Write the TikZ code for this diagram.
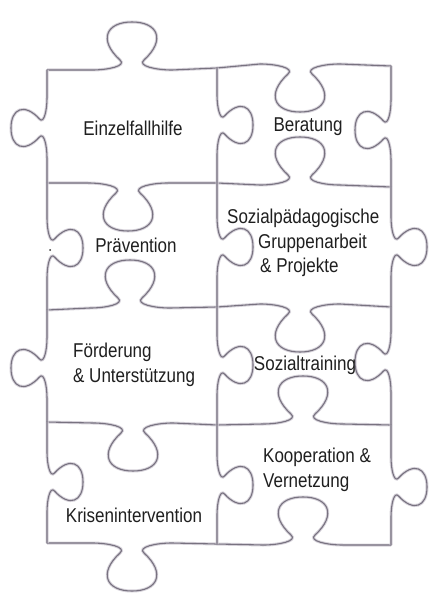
\documentclass[tikz,border=0pt]{standalone}
\usepackage{fontspec}
\setmainfont{Liberation Sans}[FakeStretch=0.85]
\definecolor{edgecol}{RGB}{120,114,128}
\definecolor{halocol}{RGB}{214,210,218}
\tikzset{
  pz/.style={draw=edgecol, line width=1.1pt, line cap=round, line join=round,
    preaction={draw=halocol, line width=3pt}},
  lbl/.style={inner sep=0pt, font=\fontsize{20}{24.5}\selectfont, text=black!88}
}
% knob on a horizontal edge (drawn left to right): centre x, y, direction (+1 down, -1 up), scale
\newcommand\hk[4]{%
 -- ({#1-40*(#4)},{#2})
 .. controls ({#1-24*(#4)},{#2}) and ({#1-5*(#4)},{#2+4*(#3)*(#4)}) .. ({#1-12*(#4)},{#2+10*(#3)*(#4)})
 .. controls ({#1-34*(#4)},{#2+30*(#3)*(#4)}) and ({#1-26*(#4)},{#2+48*(#3)*(#4)}) .. ({#1},{#2+48*(#3)*(#4)})
 .. controls ({#1+26*(#4)},{#2+48*(#3)*(#4)}) and ({#1+34*(#4)},{#2+30*(#3)*(#4)}) .. ({#1+12*(#4)},{#2+10*(#3)*(#4)})
 .. controls ({#1+5*(#4)},{#2+4*(#3)*(#4)}) and ({#1+24*(#4)},{#2}) .. ({#1+40*(#4)},{#2})}
% knob on a vertical edge (drawn top to bottom): x, centre y, direction (+1 right, -1 left), scale
\newcommand\vk[4]{%
 -- ({#1},{#2-40*(#4)})
 .. controls ({#1},{#2-24*(#4)}) and ({#1+4*(#3)*(#4)},{#2-5*(#4)}) .. ({#1+10*(#3)*(#4)},{#2-12*(#4)})
 .. controls ({#1+30*(#3)*(#4)},{#2-34*(#4)}) and ({#1+48*(#3)*(#4)},{#2-26*(#4)}) .. ({#1+48*(#3)*(#4)},{#2})
 .. controls ({#1+48*(#3)*(#4)},{#2+26*(#4)}) and ({#1+30*(#3)*(#4)},{#2+34*(#4)}) .. ({#1+10*(#3)*(#4)},{#2+12*(#4)})
 .. controls ({#1+4*(#3)*(#4)},{#2+5*(#4)}) and ({#1},{#2+24*(#4)}) .. ({#1},{#2+40*(#4)})}
\begin{document}
\begin{tikzpicture}[x=1pt,y=-1pt]
\fill[white] (0,0) rectangle (429,593);
\useasboundingbox (0,0) rectangle (429,593);

% left column horizontal edges
\draw[pz] (47,70)  \hk{132}{70}{-1}{1}  -- (217,68);
\draw[pz] (47,183) \hk{128}{183}{1}{1}  -- (217,183);
\draw[pz] (47,310) \hk{130}{308}{-1}{1} -- (217,307);
\draw[pz] (47,422) \hk{133}{423}{1}{1}  -- (217,425);
\draw[pz] (47,543) \hk{132}{543}{1}{1}  -- (217,544);
% right column horizontal edges
\draw[pz] (217,68)  \hk{300}{64}{1}{1}   -- (391,66);
\draw[pz] (217,183) \hk{300}{185}{-1}{1} -- (391,187);
\draw[pz] (217,307) \hk{300}{304}{1}{1}  -- (391,307);
\draw[pz] (217,425) \hk{303}{424}{-1}{1} -- (391,425);
\draw[pz] (217,544) \hk{303}{545}{-1}{1} -- (391,545);

% left outer edge
\draw[pz] (47,70)  \vk{47}{128}{-1}{0.75} -- (47,183);
\draw[pz] (47,183) \vk{47}{248}{1}{0.75}  -- (47,310);
\draw[pz] (47,310) \vk{47}{368}{-1}{0.75} -- (47,422);
\draw[pz] (47,422) \vk{47}{482}{1}{0.75}  -- (47,543);
% column boundary
\draw[pz] (217,68)  \vk{217}{125}{1}{0.75} -- (217,183);
\draw[pz] (217,183) \vk{217}{247}{1}{0.75} -- (217,307);
\draw[pz] (217,307) \vk{217}{365}{1}{0.75} -- (217,425);
\draw[pz] (217,425) \vk{217}{485}{1}{0.75} -- (217,544);
% right outer edge
\draw[pz] (391,66)  \vk{391}{130}{-1}{0.75} -- (391,187);
\draw[pz] (391,187) \vk{391}{247}{1}{0.75}  -- (391,307);
\draw[pz] (391,307) \vk{391}{362}{-1}{0.75} -- (391,425);
\draw[pz] (391,425) \vk{391}{487}{1}{0.75}  -- (391,545);

\fill[black!80] (50,250) circle (1pt);

% labels
\node[lbl] (einzel) at (133,128) {Einzelfallhilfe};
\node[lbl] (berat) at (308,127) {Beratung};
\node[lbl] (praev) at (136,245) {Prävention};
\node[lbl, anchor=west, align=left] (sozpaed) at (227,243)
  {Sozialpädagogische\\\hspace*{31pt}Gruppenarbeit\\\hspace*{33pt}\& Projekte};
\node[lbl, anchor=west, align=left] (foerd) at (73,365) {Förderung\\\& Unterstützung};
\node[lbl] (sozt) at (305,365) {Sozialtraining};
\node[lbl, anchor=west, align=left] (koop) at (263,470) {Kooperation \&\\Vernetzung};
\node[lbl] (krise) at (134,515) {Krisenintervention};
\end{tikzpicture}
\end{document}
